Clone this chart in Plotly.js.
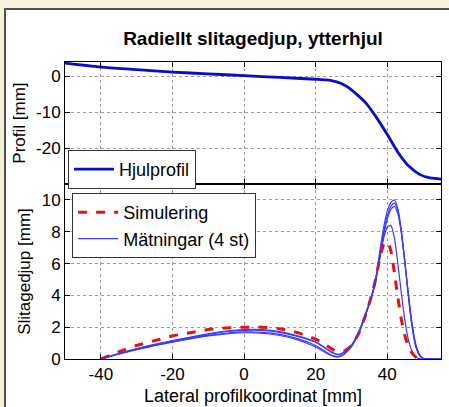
<!DOCTYPE html>
<html>
<head>
<meta charset="utf-8">
<script src="https://cdn.plot.ly/plotly-3.0.1.min.js"></script>
<style>
  html, body { margin: 0; padding: 0; width: 449px; height: 407px; background: #f6f1d9; overflow: hidden; }
  #panel { position: absolute; left: 4px; top: 8px; right: 0; bottom: 0; background: #ffffff;
           border-left: 2px solid #505050; border-top: 2px solid #505050; }
  #chart { position: absolute; left: 0; top: 0; width: 449px; height: 407px; }
</style>
</head>
<body>
<div id="panel"></div>
<div id="chart"></div>
<script>
// Wheel profile (top panel)
const profX = [-50, -40, -30, -20, -10, 0, 10, 20, 23, 25, 27, 29, 31, 34, 37, 40, 43, 46, 49, 52, 55];
const profY = [3.7, 2.6, 1.9, 1.2, 0.7, 0.2, -0.3, -0.8, -1.0, -1.3, -1.9, -3.0, -4.6, -7.4, -11.5, -16.2, -21.2, -25.0, -27.3, -28.3, -28.6];

// Wear depth (bottom panel)
const simX = [-40, -35, -30, -25, -20, -15, -10, -5, 0, 5, 10, 15, 20, 22, 24, 25, 26, 27, 28, 30, 32, 34, 36, 37, 38, 39, 40, 41, 42, 43, 44, 45, 46, 47, 48, 49, 50];
const simY = [0, 0.45, 0.85, 1.15, 1.45, 1.65, 1.85, 1.95, 2.0, 2.0, 1.9, 1.65, 1.25, 1.0, 0.7, 0.58, 0.48, 0.45, 0.5, 0.85, 1.6, 2.8, 4.3, 5.3, 6.4, 7.2, 7.4, 6.8, 5.4, 3.8, 2.4, 1.4, 0.75, 0.35, 0.12, 0.02, 0];

const measX = [-40, -35, -30, -25, -20, -15, -10, -5, 0, 5, 10, 15, 20, 22, 24, 25, 26, 27, 28, 30, 32, 34, 36, 37, 38, 39, 40, 41, 42, 43, 44, 45, 46, 47, 48, 49, 50, 52, 55];
const meas1 = [0, 0.35, 0.65, 0.92, 1.15, 1.38, 1.58, 1.75, 1.85, 1.85, 1.72, 1.45, 1.08, 0.8, 0.5, 0.38, 0.3, 0.32, 0.45, 0.88, 1.7, 2.9, 4.3, 5.4, 6.9, 8.3, 9.3, 9.85, 10.0, 9.4, 7.9, 5.9, 3.7, 1.9, 0.75, 0.22, 0.03, 0, 0];
const meas2 = [0, 0.33, 0.63, 0.9, 1.13, 1.35, 1.55, 1.72, 1.8, 1.8, 1.68, 1.42, 1.05, 0.78, 0.48, 0.36, 0.28, 0.3, 0.43, 0.86, 1.68, 2.85, 4.2, 5.3, 6.7, 8.0, 9.0, 9.6, 9.8, 9.3, 7.9, 5.9, 3.8, 2.0, 0.8, 0.25, 0.04, 0, 0];
const meas3 = [0, 0.32, 0.6, 0.86, 1.08, 1.3, 1.48, 1.62, 1.7, 1.68, 1.55, 1.28, 0.85, 0.58, 0.3, 0.2, 0.15, 0.18, 0.3, 0.78, 1.6, 2.8, 4.2, 5.2, 6.5, 7.8, 8.8, 9.4, 9.6, 9.1, 7.8, 5.9, 3.9, 2.1, 0.9, 0.3, 0.05, 0, 0];
const meas4 = [0, 0.3, 0.58, 0.84, 1.06, 1.27, 1.45, 1.58, 1.65, 1.62, 1.48, 1.2, 0.75, 0.5, 0.25, 0.17, 0.14, 0.18, 0.32, 0.8, 1.62, 2.8, 4.2, 5.2, 6.4, 7.6, 8.3, 8.4, 7.6, 5.9, 4.0, 2.3, 1.1, 0.45, 0.12, 0.02, 0, 0, 0];

const xTicks = [-40, -20, 0, 20, 40];
const xTickText = ['-40', '-20', '0', '20', '40'];
const yTicksTop = [-20, -10, 0];
const yTickTextTop = ['-20', '-10', '0'];
const yTicksBottom = [0, 2, 4, 6, 8, 10];
const yTickTextBottom = ['0', '2', '4', '6', '8', '10'];

const FONT = 'Liberation Sans, Arial, Helvetica, sans-serif';
const measColor = '#3a3aff';
const measLine = { color: measColor, width: 1.2, shape: 'spline', smoothing: 0.6 };

const traces = [
  { x: profX, y: profY, xaxis: 'x', yaxis: 'y', type: 'scatter', mode: 'lines', line: { color: '#0a0ad0', width: 2.8, shape: 'spline', smoothing: 0.8 }, name: 'Hjulprofil', legend: 'legend' },
  { x: measX, y: meas2, xaxis: 'x2', yaxis: 'y2', type: 'scatter', mode: 'lines', line: measLine, name: 'Mätningar (4 st)', legend: 'legend2', showlegend: false, legendgroup: 'm' },
  { x: measX, y: meas3, xaxis: 'x2', yaxis: 'y2', type: 'scatter', mode: 'lines', line: measLine, name: 'Mätningar (4 st)', legend: 'legend2', showlegend: false, legendgroup: 'm' },
  { x: measX, y: meas4, xaxis: 'x2', yaxis: 'y2', type: 'scatter', mode: 'lines', line: measLine, name: 'Mätningar (4 st)', legend: 'legend2', showlegend: false, legendgroup: 'm' },
  { x: simX, y: simY, xaxis: 'x2', yaxis: 'y2', type: 'scatter', mode: 'lines', line: { color: '#e81010', width: 3, dash: 'dash', shape: 'spline', smoothing: 0.6 }, name: 'Simulering', legend: 'legend2', legendrank: 1 },
  { x: measX, y: meas1, xaxis: 'x2', yaxis: 'y2', type: 'scatter', mode: 'lines', line: measLine, name: 'Mätningar (4 st)', legend: 'legend2', legendrank: 2, legendgroup: 'm' }
];

const axisCommon = {
  range: [-50, 55], tickvals: xTicks, ticktext: xTickText, ticks: 'inside', ticklen: 5, tickcolor: '#000',
  mirror: 'ticks', showline: true, linecolor: '#000', linewidth: 1,
  showgrid: true, gridcolor: '#9a9a9a', griddash: 'dot', gridwidth: 1, zeroline: false,
  tickfont: { family: FONT, size: 17, color: '#000' }
};
const yCommon = {
  ticks: 'inside', ticklen: 5, tickcolor: '#000',
  mirror: 'ticks', showline: true, linecolor: '#000', linewidth: 1,
  showgrid: true, gridcolor: '#9a9a9a', griddash: 'dot', zeroline: false,
  tickfont: { family: FONT, size: 17, color: '#000' }
};

const layout = {
  width: 449, height: 407,
  paper_bgcolor: 'rgba(0,0,0,0)', plot_bgcolor: '#ffffff',
  margin: { l: 65, r: 8, t: 62, b: 48 },
  font: { family: FONT, size: 17, color: '#000' },
  title: { text: '<b>Radiellt slitagedjup, ytterhjul</b>', font: { family: FONT, size: 19, color: '#000' },
           x: 0.5, xref: 'paper', xanchor: 'center', y: 1 - 38 / 407, yref: 'container', yanchor: 'middle' },
  xaxis: Object.assign({}, axisCommon, { anchor: 'y', showticklabels: false }),
  yaxis: Object.assign({}, yCommon, { domain: [0.589, 1], anchor: 'x', range: [-30, 4], tickvals: yTicksTop, ticktext: yTickTextTop,
           title: { text: 'Profil [mm]', font: { family: FONT, size: 17, color: '#000' }, standoff: 6 } }),
  xaxis2: Object.assign({}, axisCommon, { anchor: 'y2',
           title: { text: 'Lateral profilkoordinat [mm]', font: { family: FONT, size: 18, color: '#000' }, standoff: 5 } }),
  yaxis2: Object.assign({}, yCommon, { domain: [0, 0.589], anchor: 'x2', range: [0, 11], tickvals: yTicksBottom, ticktext: yTickTextBottom,
           title: { text: 'Slitagedjup [mm]', font: { family: FONT, size: 17, color: '#000' }, standoff: 6 } }),
  legend: { x: 0.008, xanchor: 'left', y: (359 - 150) / 297, yanchor: 'top', bgcolor: '#ffffff',
            bordercolor: '#333', borderwidth: 1, font: { family: FONT, size: 18, color: '#000' }, tracegroupgap: 0, itemwidth: 40 },
  legend2: { x: 0.019, xanchor: 'left', y: (359 - 193) / 297, yanchor: 'top', bgcolor: '#ffffff',
            bordercolor: '#333', borderwidth: 1, font: { family: FONT, size: 18, color: '#000' }, tracegroupgap: 0,
            traceorder: 'normal', itemwidth: 40 },
  showlegend: true
};

Plotly.newPlot('chart', traces, layout, { staticPlot: true, displayModeBar: false });
</script>
</body>
</html>
